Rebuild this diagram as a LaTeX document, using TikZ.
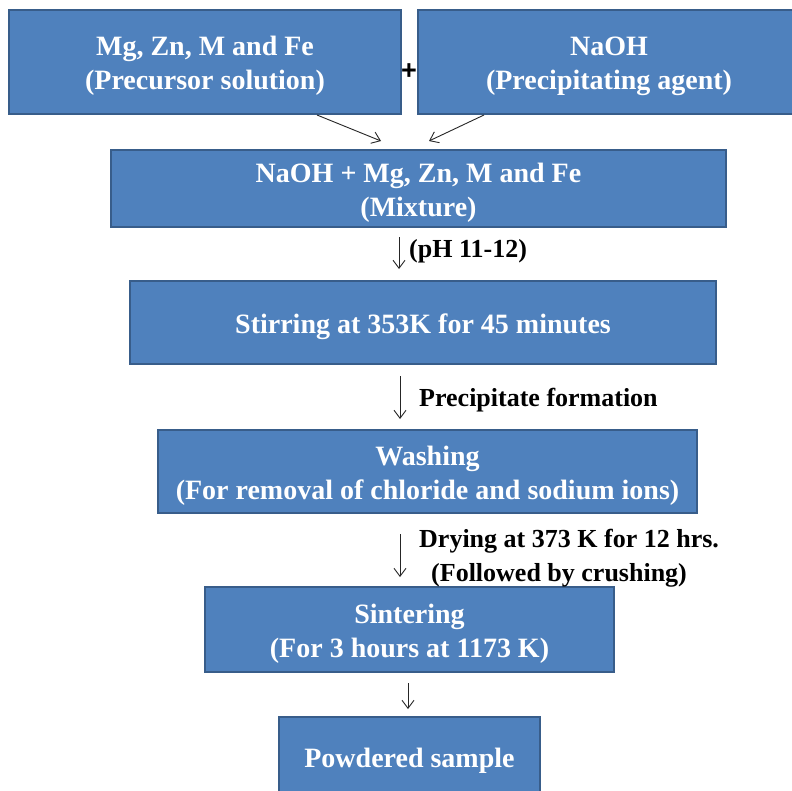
\documentclass[tikz,border=0pt]{standalone}
\usepackage{fontspec}
\setmainfont{Liberation Serif}
\newfontfamily\plusfont{Liberation Sans}
\usetikzlibrary{arrows.meta}
\definecolor{boxfill}{HTML}{4F81BD}
\definecolor{boxline}{HTML}{385D8A}
\definecolor{arrowc}{HTML}{262626}
\begin{document}
\begin{tikzpicture}[x=1pt,y=-1pt,
  stepbox/.style={draw=boxline, line width=2pt, fill=boxfill, inner sep=0pt},
  boxtext/.style={text=white, font=\bfseries\fontsize{28}{34}\selectfont, align=center, inner sep=0pt},
  lbl/.style={font=\bfseries\fontsize{26}{32}\selectfont, text=black, inner sep=0pt, anchor=west},
  arr/.style={draw=arrowc, line width=0.9pt, -{Straight Barb[length=8pt,width=12pt]}}]
\useasboundingbox (0,0) rectangle (792,790);
\clip (0,0) rectangle (792,790);
\fill[white] (0,0) rectangle (792,790);

\node[stepbox, minimum width=392pt, minimum height=104pt] (b1) at (205,62) {};
\node[boxtext] (t1) at ([yshift=-4pt]b1.center) {Mg, Zn, M and Fe\\(Precursor solution)};
\node[stepbox, minimum width=382pt, minimum height=104pt] (b2) at (609,62) {};
\node[boxtext] (t2) at ([yshift=-4pt]b2.center) {NaOH\\(Precipitating agent)};
\node[font=\plusfont\bfseries\fontsize{27}{27}\selectfont, inner sep=0pt] (plus) at (409,72) {+};
\node[stepbox, minimum width=615pt, minimum height=77pt] (b3) at (418.5,188.5) {};
\node[boxtext] (t3) at ([yshift=-4pt]b3.center) {NaOH + Mg, Zn, M and Fe\\(Mixture)};
\node[stepbox, minimum width=586pt, minimum height=83pt] (b4) at (423,322.5) {};
\node[boxtext] (t4) at ([yshift=-4pt]b4.center) {Stirring at 353K for 45 minutes};
\node[stepbox, minimum width=539pt, minimum height=83pt] (b5) at (427.5,471.5) {};
\node[boxtext] (t5) at ([yshift=-4pt]b5.center) {Washing\\(For removal of chloride and sodium ions)};
\node[stepbox, minimum width=409pt, minimum height=85pt] (b6) at (409.5,629.5) {};
\node[boxtext] (t6) at ([yshift=-4pt]b6.center) {Sintering\\(For 3 hours at 1173 K)};
\node[stepbox, minimum width=261pt, minimum height=80pt] (b7) at (409.5,757) {};
\node[boxtext] (t7) at ([yshift=-4pt]b7.center) {Powdered sample};

\node[lbl] (l1) at (409,251) {(pH 11-12)};
\node[lbl] (l2) at (419,400) {Precipitate formation};
\node[lbl] (l3) at (419,541) {Drying at 373 K for 12 hrs.};
\node[lbl] (l4) at (431,575) {(Followed by crushing)};

\coordinate (s1) at (317,0);
\coordinate (e1) at (381,141);
\coordinate (s2) at (484,0);
\coordinate (e2) at (429,141);
\coordinate (c1) at (399,0);
\coordinate (c2) at (400,0);
\coordinate (c3) at (408,0);

\draw[arr] (b1.south -| s1) -- (e1);
\draw[arr] (b2.south -| s2) -- (e2);
\draw[arr, shorten <=9pt, shorten >=11pt] (b3.south -| c1) -- (b4.north -| c1);
\draw[arr, shorten <=11pt, shorten >=10pt] (b4.south -| c2) -- (b5.north -| c2);
\draw[arr, shorten <=20pt, shorten >=9pt] (b5.south -| c2) -- (b6.north -| c2);
\draw[arr, shorten <=10pt, shorten >=7pt] (b6.south -| c3) -- (b7.north -| c3);
\end{tikzpicture}
\end{document}
